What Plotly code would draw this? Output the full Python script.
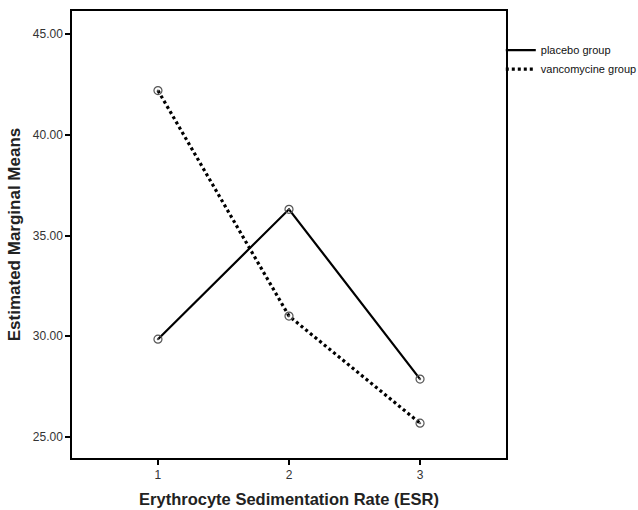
import plotly.graph_objects as go

x_levels = [1, 2, 3]
placebo = [29.85, 36.3, 27.87]
vancomycine = [42.2, 31.0, 25.68]
series_names = ["placebo group", "vancomycine group"]
y_ticks = [25, 30, 35, 40, 45]

line_styles = [dict(color="black", width=2.2),
               dict(color="black", width=3.2, dash="3px,3px")]
marker_style = dict(symbol="circle-open-dot", size=8, color="#555555", line=dict(width=1.2))

fig = go.Figure()
for name, vals, ls in zip(series_names, [placebo, vancomycine], line_styles):
    fig.add_trace(go.Scatter(x=x_levels, y=vals, name=name, mode="lines", line=ls))
for name, vals in zip(series_names, [placebo, vancomycine]):
    fig.add_trace(go.Scatter(x=x_levels, y=vals, name=name, mode="markers",
                             marker=marker_style, showlegend=False))

fig.update_layout(
    width=638, height=510,
    margin=dict(l=72, r=132, t=11, b=52, autoexpand=False),
    paper_bgcolor="white", plot_bgcolor="white",
    font=dict(family="Liberation Sans, Arial, sans-serif", color="#222222"),
    showlegend=True,
    legend=dict(x=0.988, xanchor="left", y=0.945, yanchor="top",
                font=dict(size=11, color="#111111"), itemwidth=30,
                tracegroupgap=0, bgcolor="rgba(0,0,0,0)"),
    xaxis=dict(
        range=[0.344, 3.656], tickvals=x_levels, ticktext=[str(v) for v in x_levels],
        showgrid=False, zeroline=False, showline=True, linecolor="black", linewidth=1.5,
        mirror=True, ticks="outside", ticklen=5, tickwidth=1.5, tickcolor="black",
        tickfont=dict(size=12, color="#333333"),
        title=dict(text="<b>Erythrocyte Sedimentation Rate (ESR)</b>",
                   font=dict(size=16.5, color="#222222"), standoff=12),
    ),
    yaxis=dict(
        range=[23.95, 46.15], tickvals=y_ticks, ticktext=["%.2f" % v for v in y_ticks],
        showgrid=False, zeroline=False, showline=True, linecolor="black", linewidth=1.5,
        mirror=True, ticks="outside", ticklen=5, tickwidth=1.5, tickcolor="black",
        tickfont=dict(size=12, color="#333333"),
        title=dict(text="<b>Estimated Marginal Means</b>",
                   font=dict(size=17, color="#222222"), standoff=8),
    ),
)

fig.write_html("out.html")
